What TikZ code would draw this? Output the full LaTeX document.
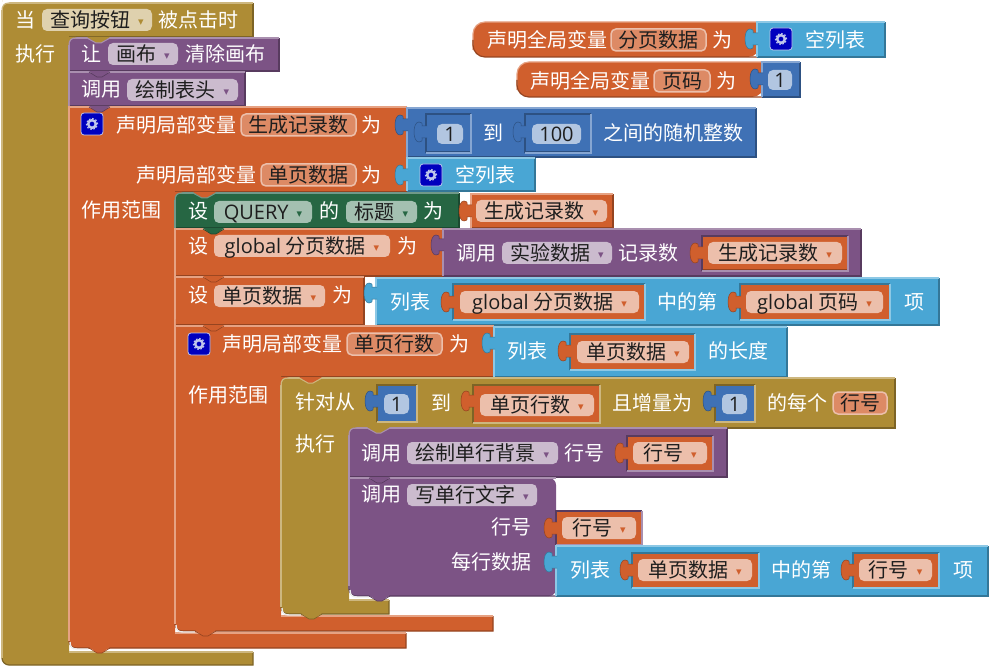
\documentclass[tikz,border=0pt]{standalone}
\usepackage{fontspec}
\setmainfont{Noto Sans CJK SC}
\newfontfamily\latinf{Open Sans}
\newfontfamily\symf{DejaVu Sans}
\newcommand{\lt}[1]{{\latinf #1}}
\newcommand{\dd}[1]{\hspace{8pt}\raisebox{2pt}{\symf\fontsize{11}{11}\selectfont\textcolor{#1}{▾}}\hspace{3pt}}
\definecolor{goldC}{HTML}{AE8C35}
\definecolor{goldL}{HTML}{CDB77F}
\definecolor{goldD}{HTML}{7D6426}
\definecolor{goldF}{HTML}{DFD1AE}
\definecolor{purpC}{HTML}{7C5385}
\definecolor{purpL}{HTML}{A98FAF}
\definecolor{purpD}{HTML}{583B5F}
\definecolor{purpF}{HTML}{CBBBCE}
\definecolor{orngC}{HTML}{D05F2D}
\definecolor{orngL}{HTML}{E6A283}
\definecolor{orngD}{HTML}{954420}
\definecolor{orngF}{HTML}{ECBFAB}
\definecolor{orngV}{HTML}{DD8A65}
\definecolor{blueC}{HTML}{3F71B5}
\definecolor{blueL}{HTML}{86A6D2}
\definecolor{blueD}{HTML}{2D5182}
\definecolor{blueF}{HTML}{B2C6E1}
\definecolor{skyC}{HTML}{49A6D4}
\definecolor{skyL}{HTML}{8DC8E5}
\definecolor{skyD}{HTML}{347798}
\definecolor{grenC}{HTML}{266643}
\definecolor{grenL}{HTML}{70998A}
\definecolor{grenD}{HTML}{1B4930}
\definecolor{grenF}{HTML}{A4C0B1}
\definecolor{textC}{HTML}{1E1E1E}
\definecolor{gearC}{HTML}{0000BE}
\definecolor{gearL}{HTML}{BFC6EC}
\tikzset{
	txtfont/.style={font=\fontsize{20}{24}\selectfont,inner sep=0pt,text height=17pt,text depth=2pt},
	lbl/.style={txtfont,text=white,anchor=west},
	fieldbox/.style={txtfont,text=textC,rounded corners=5pt,minimum height=22pt},
	goldf/.style={fieldbox,fill=goldF},
	purpf/.style={fieldbox,fill=purpF},
	orngf/.style={fieldbox,fill=orngF},
	grenf/.style={fieldbox,fill=grenF},
	bluef/.style={fieldbox,fill=blueF,minimum height=20pt},
	varf/.style={fieldbox,fill=orngV,draw=orngF,line width=1.5pt},
	gearbox/.style={fill=gearC,draw=gearL,rounded corners=3pt,line width=.8pt,minimum size=22pt,inner sep=0pt},
}
% field: name, x1, x2, y, style, text
\newcommand{\fld}[6]{\node[#5,minimum width={#3pt-#2pt}] (#1) at ({(#2+#3)/2},#4) {#6};}
% gear: name, x, y
\newcommand{\gear}[3]{
	\node[gearbox] (#1) at (#2,#3) {};
	\draw[gearL,line width=2.4pt] (#1.center) circle (3.8pt);
	\draw[gearL,line width=1.2pt,dash pattern=on 1.6pt off 1.8pt] (#1.center) circle (5.6pt);
}
% plain block: x1, y1, x2, y2, colour prefix
\newcommand{\blk}[5]{
	\fill[#5C] (#1,#2) rectangle (#3,#4);
	\draw[#5D,line width=1.2pt] (#1,#4) -- (#3,#4) -- (#3,#2);
	\draw[#5L,line width=1.2pt] (#1,#4) -- (#1,#2) -- (#3,#2);
}
% value block sitting in a socket: x1, y1, x2, y2, colour prefix, parent prefix
\newcommand{\vblk}[6]{
	\fill[#5C] (#1,#2) rectangle (#3,#4);
	\draw[#6D,line width=1.2pt] (#1,#4) -- (#1,#2) -- (#3,#2);
	\draw[#5D,line width=1pt] (#1+1,#4-1) -- (#3-1,#4-1) -- (#3-1,#2+1);
	\draw[#6L,line width=1.2pt] (#1,#4) -- (#3,#4) -- (#3,#2);
}
% C-shaped block: x1, y1, x2, y2, arm right, bar top, bar right, bar bottom, colour prefix
\newcommand{\cblk}[9]{
	\fill[#9C] (#1,#2) -- (#3,#2) -- (#3,#4) -- (#5,#4) -- (#5,#6) -- (#7,#6) -- (#7,#8) [rounded corners=7pt] -- (#1,#8) -- (#1,#2) [sharp corners] -- cycle;
	\draw[#9D,line width=1.2pt] (#3,#2) -- (#3,#4) -- (#5,#4);
	\draw[#9D,line width=1.2pt] (#7,#6) -- (#7,#8) [rounded corners=7pt] -- (#1,#8) -- (#1,{#8-10});
	\draw[#9L,line width=1.2pt] (#1,{#8-7}) -- (#1,#2) -- (#3,#2);
	\draw[#9L,line width=1.2pt] (#5,#6) -- (#7,#6);
}
% white sliver under a rounded corner: x1, y, x2
\newcommand{\sliver}[3]{
	\draw[white!85!gray,line width=1.4pt] (#1+1,#2-6) .. controls (#1+1,#2-1) and (#1+3,#2+1) .. (#1+8,#2+1) -- (#3,#2+1);
}
% bump under a block: x1, y, colour prefix
\newcommand{\bump}[3]{
	\fill[#3C] (#1+20,#2-1) -- (#1+28,#2+5) -- (#1+33,#2+5) -- (#1+41,#2-1) -- cycle;
	\draw[#3D,line width=.6pt] (#1+20,#2) -- (#1+28,#2+5) -- (#1+33,#2+5) -- (#1+41,#2);
}
% first child in a C: rounded corner and parent bump; x1, y, parent prefix, child prefix
\newcommand{\notchb}[4]{
	\fill[#3C] (#1-1,#2+7) -- (#1,#2+7) .. controls (#1,#2+2) and (#1+2,#2) .. (#1+7,#2) -- (#1+7,#2-1) -- (#1-1,#2-1) -- cycle;
	\draw[#4L,line width=1.2pt] (#1,#2+8) .. controls (#1,#2+2) and (#1+2,#2) .. (#1+7,#2);
	\fill[#3C] (#1+18,#2-1) -- (#1+27,#2+5) -- (#1+32,#2+5) -- (#1+41,#2-1) -- cycle;
	\draw[#4L,line width=1pt] (#1+18,#2) -- (#1+27,#2+5) -- (#1+32,#2+5) -- (#1+41,#2);
}
% tab left of a value block: x, y, colour prefix
\newcommand{\tabv}[3]{
	\filldraw[fill=#3C,draw=#3D,line width=.5pt] (#1+1,#2-6) -- (#1-4,#2-6) .. controls (#1-3,#2-9) and (#1-5,#2-10) .. (#1-7,#2-10) .. controls (#1-10,#2-10) and (#1-12,#2-6) .. (#1-12,#2) .. controls (#1-12,#2+6) and (#1-10,#2+10) .. (#1-7,#2+10) .. controls (#1-5,#2+10) and (#1-3,#2+9) .. (#1-4,#2+6) -- (#1+1,#2+6);
}
\begin{document}
\begin{tikzpicture}[x=1pt,y=-1pt]
	\useasboundingbox (0,0) rectangle (990,668);

	% event block
	\cblk{2}{3}{253}{37}{69}{652}{253}{665}{gold}
	\fill[white] (1,10) -- (2,10) .. controls (2,6) and (4,3) .. (9,3) -- (9,2) -- (1,2) -- cycle;
	\draw[goldL,line width=1.2pt] (2,11) .. controls (2,6) and (4,3) .. (9,3);
	\node[lbl] (whenLbl) at (15,20) {当};
	\fld{btnField}{42}{152}{20}{goldf}{查询按钮\dd{goldC}}
	\node[lbl] (clickLbl) at (158,20) {被点击时};
	\node[lbl] (doLbl) at (15,54) {执行};

	% canvas clear and header call
	\blk{69}{38}{279}{71}{purp}
	\node[lbl] (letLbl) at (81,54) {让};
	\fld{canvasField}{108}{178}{54}{purpf}{画布\dd{purpC}}
	\node[lbl] (clearLbl) at (185,54) {清除画布};
	\blk{69}{72}{245}{106}{purp}
	\node[lbl] (callLbl) at (81,89) {调用};
	\fld{headField}{127}{238}{90}{purpf}{绘制表头\dd{purpC}}

	% outer local block
	\cblk{69}{107}{407}{192}{175}{633}{406}{648}{orng}
	\gear{gearA}{92}{124}
	\node[lbl] (localA) at (116,125) {声明局部变量};
	\fld{genField}{241}{356}{125}{varf}{生成记录数}
	\node[lbl] (toA) at (361,125) {为};
	\node[lbl] (localB) at (136,175) {声明局部变量};
	\fld{pageField}{261}{356}{175}{varf}{单页数据}
	\node[lbl] (toB) at (361,175) {为};
	\node[lbl] (scopeA) at (81,210) {作用范围};

	% random integer
	\blk{407}{108}{756}{157}{blue}
	\tabv{407}{125}{blue}
	\vblk{426}{114}{471}{153}{blue}{blue}
	\tabv{426}{132}{blue}
	\fld{oneA}{437}{463}{134}{bluef}{\lt{1}}
	\node[lbl] (toRand) at (483,133) {到};
	\vblk{525}{114}{591}{153}{blue}{blue}
	\tabv{525}{132}{blue}
	\fld{hundred}{532}{581}{134}{bluef}{\lt{100}}
	\node[lbl] (randLbl) at (603,133) {之间的随机整数};

	% empty list
	\blk{407}{158}{535}{191}{sky}
	\tabv{407}{175}{sky}
	\gear{gearB}{431}{175}
	\node[lbl] (emptyA) at (455,175) {空列表};

	% set title
	\blk{175}{193}{459}{228}{gren}
	\node[lbl] (setA) at (188,211) {设};
	\fld{queryField}{214}{312}{212}{grenf}{\lt{QUERY}\dd{grenC}}
	\node[lbl] (ofA) at (319,211) {的};
	\fld{titleField}{346}{417}{212}{grenf}{标题\dd{grenC}}
	\node[lbl] (toC) at (423,211) {为};
	\blk{471}{194}{613}{228}{orng}
	\tabv{471}{211}{orng}
	\fld{genGet}{476}{607}{211}{orngf}{生成记录数\dd{orngC}}

	% set global paging data
	\blk{175}{229}{443}{276}{orng}
	\node[lbl] (setB) at (188,246) {设};
	\fld{globalField}{214}{390}{246}{orngf}{\lt{global} 分页数据\dd{orngC}}
	\node[lbl] (toD) at (397,246) {为};
	\blk{443}{229}{861}{276}{purp}
	\tabv{443}{245}{purp}
	\node[lbl] (callB) at (456,253) {调用};
	\fld{expField}{502}{612}{253}{purpf}{实验数据\dd{purpC}}
	\node[lbl] (recLbl) at (618,253) {记录数};
	\vblk{702}{236}{848}{271}{orng}{purp}
	\tabv{702}{253}{orng}
	\fld{genGetB}{708}{842}{253}{orngf}{生成记录数\dd{orngC}}

	% set page data
	\blk{175}{277}{364}{325}{orng}
	\node[lbl] (setC) at (188,295) {设};
	\fld{pageSet}{214}{325}{296}{orngf}{单页数据\dd{orngC}}
	\node[lbl] (toE) at (332,295) {为};
	\blk{376}{278}{939}{325}{sky}
	\tabv{376}{293}{sky}
	\node[lbl] (listA) at (390,302) {列表};
	\vblk{453}{284}{645}{320}{orng}{sky}
	\tabv{453}{302}{orng}
	\fld{globalGet}{460}{639}{302}{orngf}{\lt{global} 分页数据\dd{orngC}}
	\node[lbl] (nthA) at (657,302) {中的第};
	\vblk{740}{284}{890}{320}{orng}{sky}
	\tabv{740}{302}{orng}
	\fld{codeGet}{746}{883}{302}{orngf}{\lt{global} 页码\dd{orngC}}
	\node[lbl] (itemA) at (904,302) {项};

	% inner local block
	\cblk{175}{326}{494}{377}{281}{616}{493}{631}{orng}
	\gear{gearC}{199}{344}
	\node[lbl] (localC) at (222,344) {声明局部变量};
	\fld{rowsField}{347}{442}{344}{varf}{单页行数}
	\node[lbl] (toF) at (449,344) {为};
	\node[lbl] (scopeB) at (188,395) {作用范围};
	\blk{494}{327}{787}{377}{sky}
	\tabv{494}{343}{sky}
	\node[lbl] (listB) at (507,351) {列表};
	\vblk{570}{334}{695}{370}{orng}{sky}
	\tabv{570}{351}{orng}
	\fld{pageGet}{577}{689}{352}{orngf}{单页数据\dd{orngC}}
	\node[lbl] (lenLbl) at (708,351) {的长度};

	% for loop
	\cblk{281}{378}{895}{428}{349}{600}{389}{614}{gold}
	\node[lbl] (forLbl) at (295,402) {针对从};
	\vblk{377}{385}{417}{422}{blue}{gold}
	\tabv{377}{401}{blue}
	\fld{oneB}{384}{409}{404}{bluef}{\lt{1}}
	\node[lbl] (toG) at (431,403) {到};
	\vblk{473}{385}{600}{423}{orng}{gold}
	\tabv{473}{401}{orng}
	\fld{rowsGet}{480}{594}{405}{orngf}{单页行数\dd{orngC}}
	\node[lbl] (stepLbl) at (612,403) {且增量为};
	\vblk{715}{385}{755}{422}{blue}{gold}
	\tabv{715}{401}{blue}
	\fld{oneC}{722}{747}{404}{bluef}{\lt{1}}
	\node[lbl] (eachLbl) at (767,403) {的每个};
	\fld{rowVar}{833}{887}{403}{varf}{行号}
	\node[lbl] (doB) at (295,444) {执行};

	% draw row background
	\blk{349}{428}{727}{477}{purp}
	\node[lbl] (callC) at (361,453) {调用};
	\fld{bgField}{407}{558}{453}{purpf}{绘制单行背景\dd{purpC}}
	\node[lbl] (rowA) at (564,453) {行号};
	\vblk{627}{436}{713}{471}{orng}{purp}
	\tabv{627}{453}{orng}
	\fld{rowGetA}{633}{707}{453}{orngf}{行号\dd{orngC}}

	% write row text
	\fill[purpC,rounded corners=7pt] (349,478) -- (349,596) -- (556,596) -- (556,478) [sharp corners] -- cycle;
	\draw[purpL,line width=1.2pt] (349,589) -- (349,478) -- (556,478);
	\draw[purpD,line width=1.2pt,rounded corners=7pt] (349,586) -- (349,596) -- (556,596);
	\node[lbl] (callD) at (361,494) {调用};
	\fld{textField}{407}{537}{495}{purpf}{写单行文字\dd{purpC}}
	\node[lbl] (rowB) at (491,527) {行号};
	\vblk{556}{511}{642}{545}{orng}{purp}
	\tabv{556}{528}{orng}
	\fld{rowGetB}{562}{636}{528}{orngf}{行号\dd{orngC}}
	\node[lbl] (dataLbl) at (451,562) {每行数据};
	\blk{556}{546}{988}{596}{sky}
	\tabv{556}{562}{sky}
	\node[lbl] (listC) at (570,570) {列表};
	\vblk{632}{553}{759}{588}{orng}{sky}
	\tabv{632}{570}{orng}
	\fld{pageGetB}{638}{752}{570}{orngf}{单页数据\dd{orngC}}
	\node[lbl] (nthB) at (771,570) {中的第};
	\vblk{853}{553}{939}{588}{orng}{sky}
	\tabv{853}{570}{orng}
	\fld{rowGetC}{859}{932}{570}{orngf}{行号\dd{orngC}}
	\node[lbl] (itemB) at (953,570) {项};

	% corners and bumps
	\sliver{69}{648}{88}
	\sliver{175}{631}{195}
	\sliver{281}{614}{301}
	\sliver{349}{596}{369}
	\notchb{69}{38}{gold}{purp}
	\notchb{175}{193}{orng}{gren}
	\notchb{281}{378}{orng}{gold}
	\notchb{349}{428}{gold}{purp}
	\bump{69}{72}{purp}
	\bump{69}{107}{purp}
	\bump{183}{229}{gren}
	\bump{183}{277}{orng}
	\bump{183}{326}{orng}
	\bump{349}{478}{purp}
	\bump{349}{596}{purp}
	\bump{281}{614}{gold}
	\bump{175}{631}{orng}
	\bump{69}{648}{orng}

	% global declarations
	\fill[orngC,rounded corners=12pt] (760,22) -- (473,22) -- (473,57) -- (760,57) [sharp corners] -- cycle;
	\draw[orngL,line width=1.2pt,rounded corners=12pt] (473,50) -- (473,22) -- (760,22);
	\draw[orngD,line width=1.2pt,rounded corners=12pt] (473,40) -- (473,57) -- (760,57);
	\node[lbl] (globalA) at (487,40) {声明全局变量};
	\fld{pagedField}{611}{706}{40}{varf}{分页数据}
	\node[lbl] (toH) at (712,40) {为};
	\blk{757}{22}{885}{57}{sky}
	\tabv{757}{39}{sky}
	\gear{gearD}{781}{39}
	\node[lbl] (emptyB) at (805,40) {空列表};

	\fill[orngC,rounded corners=12pt] (764,62) -- (517,62) -- (517,97) -- (764,97) [sharp corners] -- cycle;
	\draw[orngL,line width=1.2pt,rounded corners=12pt] (517,90) -- (517,62) -- (764,62);
	\draw[orngD,line width=1.2pt,rounded corners=12pt] (517,80) -- (517,97) -- (764,97);
	\node[lbl] (globalB) at (530,81) {声明全局变量};
	\fld{codeField}{654}{710}{81}{varf}{页码}
	\node[lbl] (toI) at (716,81) {为};
	\blk{762}{62}{800}{97}{blue}
	\tabv{762}{79}{blue}
	\fld{oneD}{768}{792}{80}{bluef}{\lt{1}}
\end{tikzpicture}
\end{document}
